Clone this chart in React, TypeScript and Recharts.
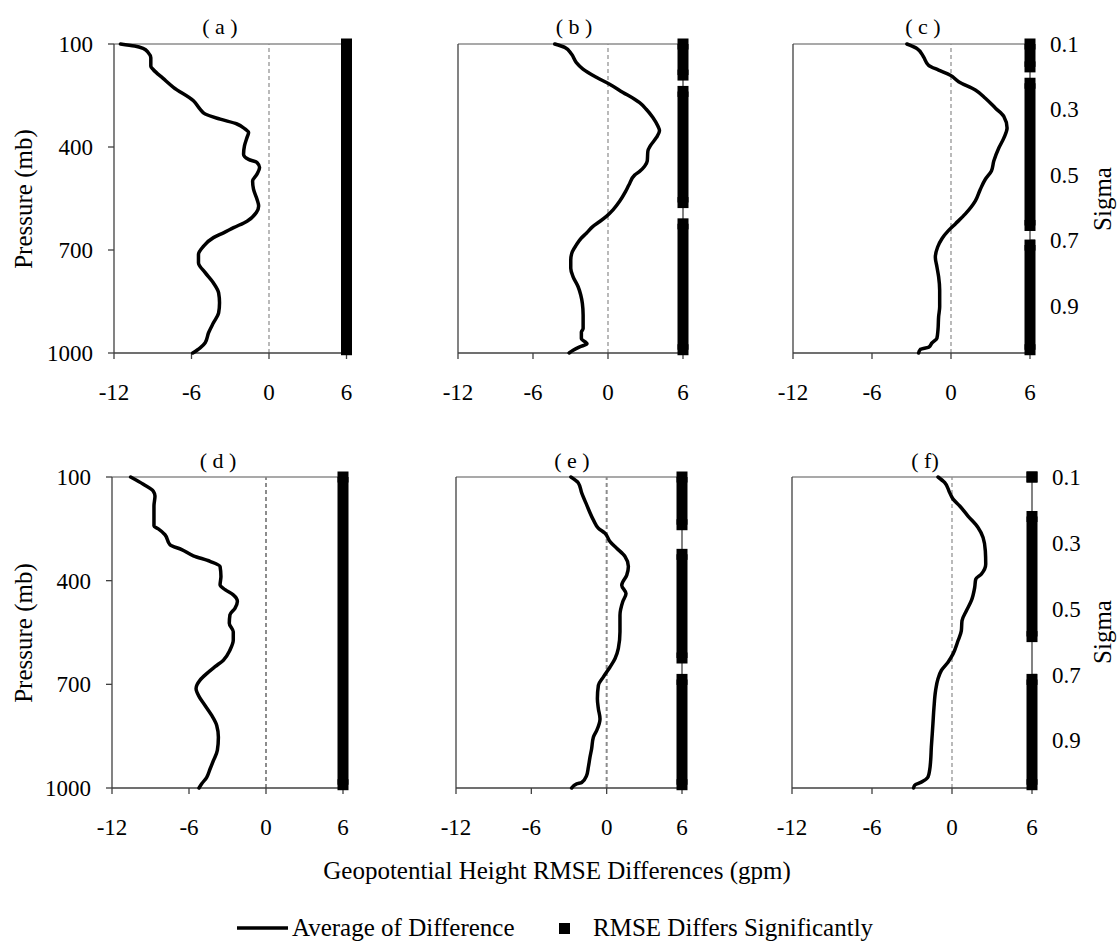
import React from 'react';
import { ScatterChart, Scatter, XAxis, YAxis, ReferenceLine } from 'recharts';

const FONT = "'Liberation Serif', Tinos, 'Times New Roman', 'DejaVu Serif', 'Noto Serif', serif";

// ---------- data ----------
const X_TICKS = [-12, -6, 0, 6];
const P_TICKS = [100, 400, 700, 1000];
const SIGMA_TICKS = [0.1, 0.3, 0.5, 0.7, 0.9];
const PANEL_LABELS = ['( a )', '( b )', '( c )', '( d )', '( e )', '( f)'];
const SIG_X = 6;

// [pressure (mb), average difference (gpm)]
const PROFILE_A: [number, number][] = [
  [100, -11.5], [106, -10.4], [113, -9.75], [125, -9.35], [140, -9.15], [165, -9.15], [175, -8.95],
  [200, -8.2], [226, -7.4], [265, -5.85], [290, -5.33], [304, -4.94], [319, -3.78], [333, -2.48],
  [348, -1.84], [358, -1.58], [372, -1.7], [397, -1.9], [421, -1.97], [436, -1.58], [445, -0.93],
  [460, -0.73], [479, -0.93], [499, -1.27], [523, -1.2], [552, -0.93], [572, -0.8], [591, -0.98],
  [616, -1.7], [635, -2.74], [650, -3.52], [664, -4.3], [689, -5.07], [713, -5.46], [737, -5.46],
  [766, -4.94], [796, -4.3], [825, -3.9], [854, -3.83], [883, -3.9], [912, -4.3], [941, -4.68],
  [970, -4.94], [985, -5.33], [1000, -5.9],
];
const PROFILE_B: [number, number][] = [
  [100, -4.26], [110, -3.46], [129, -2.93], [154, -2.53], [173, -2.0], [197, -0.93], [217, 0.13],
  [241, 1.2], [261, 2.13], [271, 2.53], [290, 3.06], [314, 3.59], [339, 3.99], [353, 4.12],
  [373, 3.86], [397, 3.38], [412, 3.19], [441, 3.14], [456, 2.93], [471, 2.53], [482, 2.13],
  [510, 1.68], [529, 1.41], [558, 0.93], [583, 0.4], [602, -0.13], [617, -0.66], [631, -1.2],
  [651, -1.73], [665, -2.13], [685, -2.53], [705, -2.85], [729, -2.98], [753, -2.98], [778, -2.79],
  [807, -2.39], [831, -2.18], [856, -2.05], [890, -1.99], [929, -1.99], [939, -2.13], [958, -2.13],
  [973, -1.68], [982, -2.26], [992, -2.79], [1000, -3.11],
];
const PROFILE_C: [number, number][] = [
  [100, -3.35], [113, -2.59], [138, -2.08], [162, -1.7], [176, -0.94], [191, -0.05], [210, 0.58],
  [234, 1.85], [258, 2.61], [287, 3.38], [311, 4.01], [345, 4.26], [374, 4.01], [403, 3.63],
  [441, 3.25], [470, 3.07], [494, 2.61], [523, 2.23], [557, 1.85], [595, 1.09], [624, 0.33],
  [643, -0.18], [667, -0.69], [692, -1.02], [721, -1.19], [749, -1.07], [778, -0.94], [817, -0.86],
  [865, -0.86], [894, -0.94], [933, -0.99], [957, -1.07], [971, -1.45], [983, -1.7], [990, -2.34],
  [1000, -2.46],
];
const PROFILE_D: [number, number][] = [
  [100, -10.55], [121, -9.56], [141, -8.78], [155, -8.65], [184, -8.73], [223, -8.73], [242, -8.73],
  [250, -8.39], [267, -7.87], [296, -7.48], [310, -6.57], [328, -5.66], [344, -4.36], [359, -3.58],
  [388, -3.51], [412, -3.58], [426, -3.19], [441, -2.55], [460, -2.23], [480, -2.42], [499, -2.81],
  [523, -2.86], [548, -2.55], [572, -2.55], [601, -2.81], [630, -3.32], [649, -3.97], [669, -4.62],
  [688, -5.14], [712, -5.45], [737, -5.19], [761, -4.75], [790, -4.23], [819, -3.84], [853, -3.71],
  [891, -3.79], [921, -4.1], [945, -4.36], [969, -4.62], [988, -5.01], [1000, -5.22],
];
const PROFILE_E: [number, number][] = [
  [100, -2.85], [117, -2.26], [146, -1.99], [180, -1.6], [224, -1.06], [248, -0.66], [263, -0.13],
  [287, 0.27], [306, 0.8], [330, 1.46], [359, 1.73], [384, 1.6], [413, 1.2], [437, 1.54],
  [461, 1.28], [500, 1.06], [548, 1.06], [596, 0.93], [626, 0.66], [650, 0.27], [679, -0.27],
  [703, -0.66], [742, -0.74], [771, -0.66], [800, -0.53], [834, -0.8], [853, -1.06], [887, -1.2],
  [911, -1.33], [940, -1.46], [964, -1.6], [984, -1.99], [988, -2.39], [1000, -2.79],
];
const PROFILE_F: [number, number][] = [
  [100, -1.05], [116, -0.55], [145, -0.18], [164, 0.08], [184, 0.58], [213, 1.2], [246, 1.95],
  [275, 2.33], [314, 2.5], [352, 2.53], [381, 2.2], [396, 1.78], [420, 1.7], [458, 1.45],
  [487, 1.08], [516, 0.75], [545, 0.7], [574, 0.45], [612, 0.08], [636, -0.3], [660, -0.8],
  [684, -1.05], [718, -1.23], [766, -1.35], [814, -1.43], [843, -1.48], [882, -1.55], [920, -1.6],
  [949, -1.68], [968, -1.8], [983, -2.3], [992, -2.8], [1000, -2.88],
];

// sigma ranges (first level, last level) where the RMSE differs significantly
const SIG_A: [number, number][] = [[0.1, 1.035]];
const SIG_B: [number, number][] = [[0.1, 0.195], [0.245, 0.585], [0.65, 1.035]];
const SIG_C: [number, number][] = [[0.1, 0.17], [0.22, 0.655], [0.715, 1.035]];
const SIG_D: [number, number][] = [[0.1, 1.035]];
const SIG_E: [number, number][] = [[0.1, 0.245], [0.335, 0.65], [0.715, 1.035]];
const SIG_F: [number, number][] = [[0.1, 0.1], [0.22, 0.585], [0.715, 1.035]];

// ---------- layout ----------
const AX = '#404040';
const ML = 80, MR = 80, MT = 12, MB = 60;

const PANELS = [
  { left: 113.5, top: 43.5, w: 232.5, h: 309, profile: PROFILE_A, sig: SIG_A, lbl: true, rlbl: false, zw: 1.2, tx: 220, ty: 34 },
  { left: 458, top: 43.5, w: 225, h: 309, profile: PROFILE_B, sig: SIG_B, lbl: false, rlbl: false, zw: 1.2, tx: 574, ty: 34 },
  { left: 793, top: 43.5, w: 237, h: 309, profile: PROFILE_C, sig: SIG_C, lbl: false, rlbl: true, zw: 1.2, tx: 923, ty: 34 },
  { left: 112, top: 476.5, w: 231, h: 311, profile: PROFILE_D, sig: SIG_D, lbl: true, rlbl: false, zw: 2, tx: 218, ty: 468 },
  { left: 456, top: 476.5, w: 226, h: 311, profile: PROFILE_E, sig: SIG_E, lbl: false, rlbl: false, zw: 2, tx: 572, ty: 468 },
  { left: 792, top: 476.5, w: 240, h: 311, profile: PROFILE_F, sig: SIG_F, lbl: false, rlbl: true, zw: 1.2, tx: 925, ty: 468 },
];

const XTick = (props: any) => (
  <text x={props.x} y={props.y} dy="0.71em" textAnchor="middle" fontSize={23} style={{ fontFamily: FONT }} fill="#000">
    {String(props.payload.value)}
  </text>
);
const LeftTick = (props: any) => (
  <text x={props.x} y={props.y} dy="0.35em" textAnchor="end" fontSize={23} style={{ fontFamily: FONT }} fill="#000">
    {String(props.payload.value)}
  </text>
);
const RightTick = (props: any) => (
  <text x={props.x} y={props.y} dy="0.35em" textAnchor="start" fontSize={23} style={{ fontFamily: FONT }} fill="#000">
    {String(props.payload.value)}
  </text>
);
const NoShape = () => <g />;
const SquareMark = (props: any) => (
  <rect x={props.cx - 5.5} y={props.cy - 5.5} width={11} height={11} fill="#000" />
);

function Panel({ cfg }: { cfg: any }) {
  const rows = cfg.profile.map(([p, v]: [number, number]) => ({ p, x: v }));
  const runs = cfg.sig.map(([a, b]: [number, number]) => [
    { x: SIG_X, s: a },
    { x: SIG_X, s: b },
  ]);
  return (
    <div style={{ position: 'absolute', left: cfg.left - ML, top: cfg.top - MT }}>
      <ScatterChart
        width={cfg.w + ML + MR}
        height={cfg.h + MT + MB}
        margin={{ top: MT, right: 0, bottom: 0, left: 0 }}
      >
        <XAxis
          type="number"
          dataKey="x"
          domain={[-12, 6]}
          ticks={X_TICKS}
          interval={0}
          height={MB}
          axisLine={{ stroke: AX, strokeWidth: 1.3 }}
          tickLine={{ stroke: AX, strokeWidth: 1.3 }}
          tickSize={6}
          tickMargin={25}
          tick={XTick}
        />
        <YAxis
          yAxisId="p"
          type="number"
          dataKey="p"
          domain={[100, 1000]}
          reversed
          ticks={P_TICKS}
          interval={0}
          width={ML}
          axisLine={{ stroke: AX, strokeWidth: 1.3 }}
          tickLine={{ stroke: AX, strokeWidth: 1.3 }}
          tickSize={6}
          tickMargin={15}
          tick={cfg.lbl ? LeftTick : false}
        />
        <YAxis
          yAxisId="s"
          orientation="right"
          type="number"
          dataKey="s"
          domain={[0.1, 1.045]}
          reversed
          ticks={SIGMA_TICKS}
          interval={0}
          width={MR}
          axisLine={{ stroke: AX, strokeWidth: 1.3 }}
          tickLine={{ stroke: AX, strokeWidth: 1.3 }}
          tickSize={5}
          tickMargin={15}
          tick={cfg.rlbl ? RightTick : false}
        />
        <ReferenceLine yAxisId="p" y={100} stroke="#8c8c8c" strokeWidth={1.4} />
        <ReferenceLine yAxisId="p" x={0} stroke="#8c8c8c" strokeDasharray="4 3" strokeWidth={cfg.zw} />
        <Scatter
          yAxisId="p"
          data={rows}
          fill="#000"
          line={{ stroke: '#000', strokeWidth: 3.5, strokeLinejoin: 'round', strokeLinecap: 'round' }}
          lineType="joint"
          lineJointType="monotoneY"
          shape={NoShape}
          isAnimationActive={false}
        />
        {runs.map((run: any, i: number) => (
          <Scatter
            key={i}
            yAxisId="s"
            data={run}
            fill="#000"
            line={{ stroke: '#000', strokeWidth: 11 }}
            lineType="joint"
            shape={SquareMark}
            isAnimationActive={false}
          />
        ))}
      </ScatterChart>
    </div>
  );
}

const T = { fontFamily: FONT } as React.CSSProperties;

export default function App() {
  return (
    <div
      style={{
        position: 'absolute',
        left: 0,
        top: 0,
        width: 1117,
        height: 941,
        background: '#fff',
        overflow: 'hidden',
        fontFamily: FONT,
      }}
    >
      {PANELS.map((cfg, i) => (
        <Panel key={i} cfg={cfg} />
      ))}
      <svg
        width={1117}
        height={941}
        style={{ position: 'absolute', left: 0, top: 0, pointerEvents: 'none', fontFamily: FONT }}
      >
        {PANELS.map((cfg, i) => (
          <text key={i} x={cfg.tx} y={cfg.ty} textAnchor="middle" fontSize={22} fill="#000" style={T}>
            {PANEL_LABELS[i]}
          </text>
        ))}
        <text transform="translate(23,199) rotate(-90)" textAnchor="middle" dominantBaseline="central" fontSize={25} fill="#000" style={T}>
          Pressure (mb)
        </text>
        <text transform="translate(23,633) rotate(-90)" textAnchor="middle" dominantBaseline="central" fontSize={25} fill="#000" style={T}>
          Pressure (mb)
        </text>
        <text transform="translate(1102,199) rotate(-90)" textAnchor="middle" dominantBaseline="central" fontSize={25} fill="#000" style={T}>
          Sigma
        </text>
        <text transform="translate(1102,632) rotate(-90)" textAnchor="middle" dominantBaseline="central" fontSize={25} fill="#000" style={T}>
          Sigma
        </text>
        <text x={557} y={879} textAnchor="middle" fontSize={25} fill="#000" style={T}>
          Geopotential Height RMSE Differences (gpm)
        </text>
        <line x1={237} y1={928} x2={288} y2={928} stroke="#000" strokeWidth={3.5} />
        <text x={292} y={936} fontSize={25} fill="#000" style={T}>Average of Difference</text>
        <rect x={559} y={923} width={11} height={11} fill="#000" />
        <text x={593} y={936} fontSize={25} fill="#000" style={T}>RMSE Differs Significantly</text>
      </svg>
    </div>
  );
}
